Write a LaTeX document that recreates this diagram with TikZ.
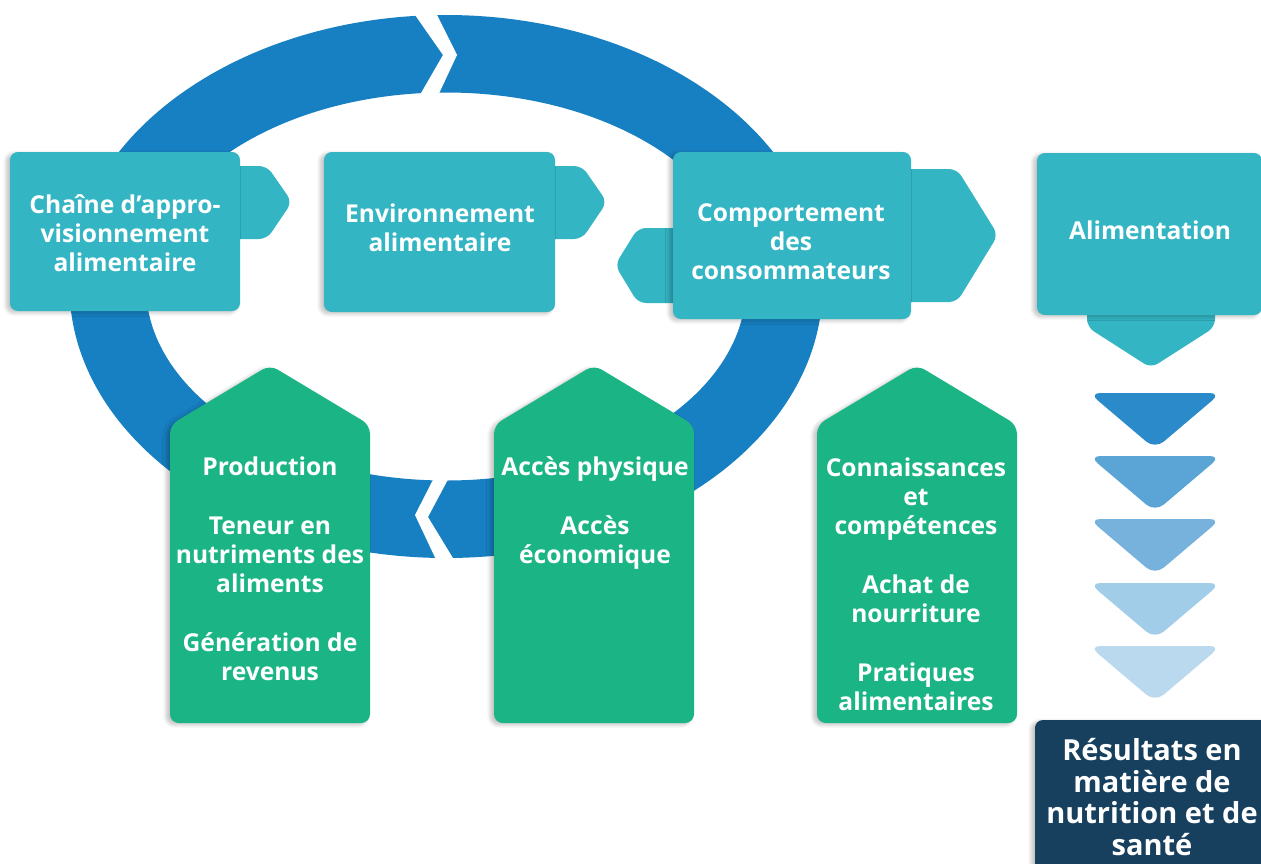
\documentclass[tikz,border=0pt]{standalone}
\usepackage{fontspec}
\setmainfont{Open Sans}
\usetikzlibrary{shadows.blur}

\definecolor{ringblue}{HTML}{1780C2}
\definecolor{tealbox}{HTML}{33B5C4}
\definecolor{greenbox}{HTML}{1BB585}
\definecolor{navybox}{HTML}{17405F}
\definecolor{chevA}{HTML}{2B8ACA}
\definecolor{chevB}{HTML}{5AA5D6}
\definecolor{chevC}{HTML}{76B2DC}
\definecolor{chevD}{HTML}{A1CDE8}
\definecolor{chevE}{HTML}{BAD9EE}

\begin{document}
\begin{tikzpicture}[x=0.02cm, y=-0.02cm,
			boxshadow/.style={blur shadow={shadow xshift=-2pt, shadow yshift=-1pt,
				shadow opacity=25, shadow blur steps=6}},
			teal/.style={fill=tealbox, rounded corners=4.5pt},
			pentagon/.style={fill=greenbox, rounded corners=5pt, boxshadow},
			label/.style={
				text = white,
				align = center,
				inner sep = 0mm,
				font = \fontsize{14}{16.5}\selectfont\bfseries}]
			\clip (0, 0) rectangle (1261, 863);
			% ring, then the two gaps that make the arrow heads
			\fill[ringblue, even odd rule] (446, 286.5) ellipse [x radius = 376.5, y radius = 271.5]
				(446, 286.5) ellipse [x radius = 300, y radius = 194];
			\fill[white] (408, 5) -- (443, 55) -- (417, 100) -- (436, 100) -- (457, 55) -- (432, 5) -- cycle;
			\fill[white] (438, 470) -- (415, 515) -- (440, 568) -- (459, 568) -- (428, 517) -- (453, 470) -- cycle;
			% tabs behind the teal boxes
			\fill[teal] (230, 166) -- (267, 166) -- (292, 202) -- (267, 239) -- (230, 239) -- cycle;
			\fill[teal] (545, 166) -- (582, 166) -- (607, 202) -- (582, 239) -- (545, 239) -- cycle;
			\fill[teal] (900, 169) -- (957, 169) -- (998, 235) -- (957, 302) -- (900, 302) -- cycle;
			\fill[teal] (690, 228) -- (638, 228) -- (615, 265) -- (638, 303) -- (690, 303) -- cycle;
			\fill[teal] (1087, 300) -- (1087, 327) -- (1151, 368) -- (1215, 327) -- (1215, 300) -- cycle;
			% teal boxes
			\fill[teal, boxshadow] (10, 152) rectangle (240, 311);
			\fill[teal, boxshadow] (324, 152) rectangle (555, 312);
			\fill[teal, boxshadow] (673, 152) rectangle (911, 319);
			\fill[teal, boxshadow] (1037, 153) rectangle (1262, 315);
			% green boxes
			\foreach \x in {170, 494, 817}
				\fill[pentagon] (\x, 723) -- (\x, 425) -- (\x+100, 365) -- (\x+200, 425) -- (\x+200, 723) -- cycle;
			% chevrons down to the outcome box
			\foreach \y/\c in {393/chevA, 456/chevB, 519/chevC, 583/chevD, 646/chevE}
				\fill[\c, rounded corners=6.5pt] (1089, \y) -- (1221, \y) -- (1155, \y+56) -- cycle;
			\fill[navybox, rounded corners=4.5pt, boxshadow] (1035, 720) rectangle (1275, 890);
			% texts
			\node[label] (supply) at (125, 233) {Chaîne d’appro-\\visionnement\\alimentaire};
			\node[label] (environment) at (440, 228) {Environnement\\alimentaire};
			\node[label] (behaviour) at (791, 242) {Comportement\\des\\consommateurs};
			\node[label] (diet) at (1150, 230) {Alimentation};
			\node[label] (production) at (270, 569) {Production\\[17pt]Teneur en\\nutriments des\\aliments\\[17pt]Génération de\\revenus};
			\node[label] (access) at (595, 513) {Accès physique\\[17pt]Accès\\économique};
			\node[label] (knowledge) at (916, 584) {Connaissances\\et\\compétences\\[17pt]Achat de\\nourriture\\[17pt]Pratiques\\alimentaires};
			\node[label, font = \fontsize{16.5}{17.9}\selectfont\bfseries] (outcome) at (1152, 797)
				{Résultats en\\matière de\\nutrition et de\\santé};
			\end{tikzpicture}
\end{document}
